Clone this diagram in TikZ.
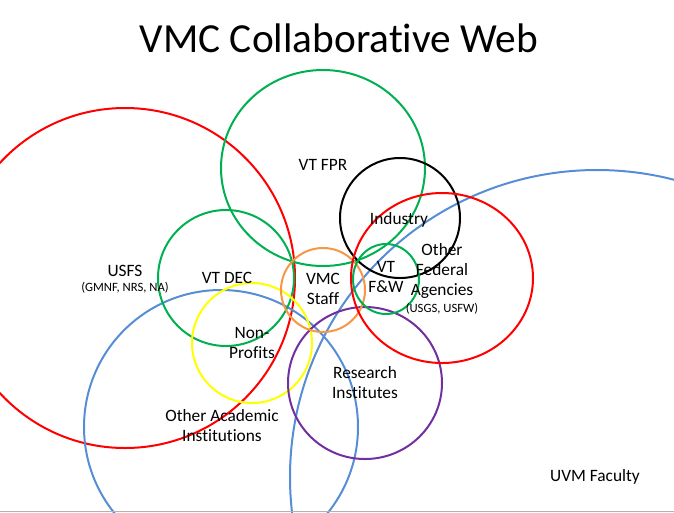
\documentclass[tikz,border=0pt]{standalone}
\usepackage{fontspec}
\setmainfont{Carlito}[Ligatures=NoCommon]
\usepackage{xcolor}
\usetikzlibrary{positioning}
\definecolor{vred}{HTML}{FF0000}
\definecolor{vgreen}{HTML}{00B050}
\definecolor{vorange}{HTML}{F79646}
\definecolor{vyellow}{HTML}{FFFF00}
\definecolor{vblue}{HTML}{558ED5}
\definecolor{vpurple}{HTML}{7030A0}
\tikzset{
  ring/.style={line width=1.5pt},
  lbl/.style={align=center, font=\fontsize{13}{15}\selectfont, inner sep=0pt},
  sublbl/.style={align=center, font=\fontsize{9.5}{11}\selectfont, inner sep=0pt},
  ttl/.style={font=\fontsize{31}{36}\selectfont, inner sep=0pt},
}

\begin{document}
\begin{tikzpicture}[x=0.75pt, y=-0.75pt]
\useasboundingbox (0,0) rectangle (674,512);
\begin{scope}
\clip (0,0) rectangle (674,512);
% groups
\draw[ring, vblue] (597,477) circle [radius=307];
\draw[ring, vred] (125,278) circle [radius=170];
\draw[ring, vblue] (221,427) circle [radius=137];
\draw[ring, vgreen] (323,168) ellipse [x radius=102, y radius=98];
\draw[ring, vgreen] (226,278) circle [radius=68];
\draw[ring, vyellow] (252,343) circle [radius=60];
\draw[ring, vpurple] (365,383) ellipse [x radius=77, y radius=76];
\draw[ring, vorange] (323,290) circle [radius=42];
\draw[ring, black] (400,218) circle [radius=60];
\draw[ring, vred] (442,278) ellipse [x radius=91, y radius=85];
\draw[ring, vgreen] (386,279) ellipse [x radius=33, y radius=35];
\draw[gray!60, line width=0.75pt] (0,511.5) -- (674,511.5);
\end{scope}
% labels
\node[ttl] (title) at (339,38) {VMC Collaborative Web};
\node[lbl] (fpr) at (323,165) {VT FPR};
\node[lbl] (ind) at (399,220) {Industry};
\node[lbl] (ofa) at (442,271) {Other\\Federal\\Agencies};
\node[sublbl, below=3pt of ofa] (ofasub) {(USGS, USFW)};
\node[lbl] (fw) at (386,277) {VT\\F\&W};
\node[lbl] (staff) at (323,289) {VMC\\Staff};
\node[lbl] (res) at (365,383) {Research\\Institutes};
\node[lbl] (uvm) at (595,477) {UVM Faculty};
\node[lbl] (usfs) at (125,271) {USFS};
\node[sublbl, below=4pt of usfs] (usfssub) {(GMNF, NRS, NA)};
\node[lbl] (dec) at (227,278) {VT DEC};
\node[lbl] (np) at (252,343) {Non-\\Profits};
\node[lbl] (acad) at (222,426) {Other Academic\\Institutions};
\end{tikzpicture}
\end{document}
